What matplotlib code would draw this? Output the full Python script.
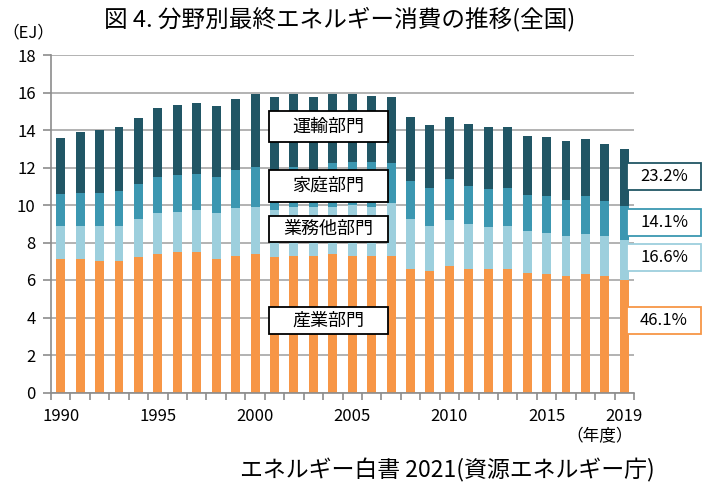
import matplotlib.pyplot as plt
import matplotlib.patches as mpatches
import numpy as np

plt.rcParams['font.family'] = ['Noto Sans CJK JP', 'DejaVu Sans']

# final energy consumption by sector (EJ), fiscal year 1990-2019
years = list(range(1990, 2020))
industry = [7.12, 7.12, 7.03, 7.03, 7.21, 7.40, 7.51, 7.51, 7.12, 7.30,
            7.39, 7.21, 7.30, 7.30, 7.39, 7.30, 7.30, 7.30, 6.57, 6.48,
            6.76, 6.57, 6.57, 6.57, 6.39, 6.30, 6.21, 6.30, 6.21, 5.98]
commercial = [1.78, 1.78, 1.87, 1.87, 2.04, 2.15, 2.12, 2.22, 2.43, 2.52,
              2.52, 2.52, 2.61, 2.61, 2.52, 2.70, 2.61, 2.79, 2.68, 2.42,
              2.42, 2.42, 2.24, 2.33, 2.22, 2.22, 2.14, 2.14, 2.14, 2.15]
household = [1.67, 1.74, 1.74, 1.85, 1.87, 1.94, 1.97, 1.94, 1.94, 2.05,
             2.13, 2.02, 2.13, 1.99, 2.31, 2.31, 2.40, 2.13, 2.05, 2.02,
             2.21, 2.04, 2.04, 2.02, 1.94, 1.94, 1.93, 2.02, 1.85, 1.83]
transport = [3.02, 3.24, 3.34, 3.41, 3.50, 3.68, 3.75, 3.79, 3.77, 3.77,
             3.88, 3.99, 3.88, 3.84, 3.70, 3.61, 3.52, 3.52, 3.41, 3.33,
             3.32, 3.31, 3.31, 3.24, 3.15, 3.15, 3.13, 3.06, 3.04, 3.01]

sector_names = ["産業部門", "業務他部門", "家庭部門", "運輸部門"]
share_2019 = ["46.1%", "16.6%", "14.1%", "23.2%"]
shown_years = [1990, 1995, 2000, 2005, 2010, 2015, 2019]

colors = ['#F79646', '#9DCFDD', '#3C97B1', '#215665']

W, H = 712, 494
fig = plt.figure(figsize=(W/100, H/100), dpi=100)
ax = fig.add_axes([51/W, 1-392.5/H, (634-51)/W, (392.5-55)/H])

x = np.arange(len(years))
series = [industry, commercial, household, transport]
bottom = np.zeros(len(years))
for vals, c in zip(series, colors):
    ax.bar(x, vals, width=0.46, bottom=bottom, color=c, zorder=2)
    bottom += np.array(vals)

ax.set_xlim(-0.5, len(years)-0.5)
ax.set_ylim(0, 18)
ax.set_yticks(np.arange(0, 19, 2))
ax.yaxis.grid(True, color='#a6a6a6', lw=1.2, zorder=0)
ax.set_axisbelow(True)
for s in ['top', 'right']:
    ax.spines[s].set_visible(False)
for s in ['left', 'bottom']:
    ax.spines[s].set_color('#8c8c8c')
    ax.spines[s].set_linewidth(1.2)

ax.set_xticks([years.index(y) for y in shown_years])
ax.set_xticklabels([str(y) for y in shown_years])
ax.set_xticks(np.arange(-0.5, len(years), 1), minor=True)
ax.tick_params(axis='x', which='major', length=0, pad=11, labelsize=12)
ax.tick_params(axis='x', which='minor', length=5, color='#8c8c8c', width=1.2)
ax.tick_params(axis='y', length=6, color='#8c8c8c', width=1.2, pad=5, labelsize=12)

def px_box(x0, y0, x1, y1, ec, lw):
    r = mpatches.Rectangle((x0/W, 1-y1/H), (x1-x0)/W, (y1-y0)/H,
                           transform=fig.transFigure, facecolor='white',
                           edgecolor=ec, lw=lw, zorder=5)
    fig.add_artist(r)

def px_text(x, y, s, **kw):
    fig.text(x/W, 1-y/H, s, ha='center', va='center', **kw)

# sector labels over the bars
label_boxes = [(307, 334), (216, 242), (170, 202), (111, 142)]
for name, (y0, y1) in zip(sector_names, label_boxes):
    px_box(269, y0, 388, y1, 'black', 1.3)
    px_text(328.5, (y0+y1)/2, name, fontsize=13, zorder=6)

# 2019 shares
share_boxes = [(307, 334), (244, 271), (209, 236), (163, 190)]
for s, c, (y0, y1) in zip(share_2019, colors, share_boxes):
    px_box(627, y0, 701, y1, c, 1.3)
    px_text(664, (y0+y1)/2, s, fontsize=12, zorder=6)

px_text(340, 19, "図 4. 分野別最終エネルギー消費の推移(全国)", fontsize=17)
px_text(28, 33, "（EJ）", fontsize=12)
px_text(600, 437, "（年度）", fontsize=12)
px_text(447, 470, "エネルギー白書 2021(資源エネルギー庁)", fontsize=16.5)

plt.savefig("out.png", dpi=100)
plt.close()
